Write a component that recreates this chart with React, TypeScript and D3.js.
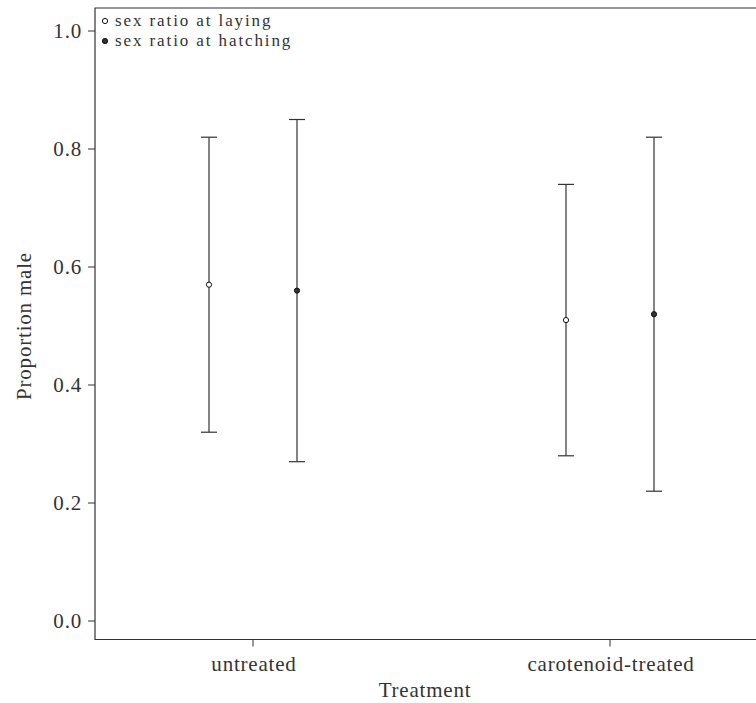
import React from "react";
import * as d3 from "d3";

const groups = ["untreated", "carotenoid-treated"];
const seriesNames = ["sex ratio at laying", "sex ratio at hatching"];
const layingMean = [0.57, 0.51];
const layingLow = [0.32, 0.28];
const layingHigh = [0.82, 0.74];
const hatchMean = [0.56, 0.52];
const hatchLow = [0.27, 0.22];
const hatchHigh = [0.85, 0.82];
const yTicks = [0.0, 0.2, 0.4, 0.6, 0.8, 1.0];

const W = 756, H = 703;
const left = 95, top = 8, bottom = 639.5;
const FONT = "'Liberation Serif', 'DejaVu Serif', serif";
const INK = "#333";
const FS = 21;
const LS = 0.8;

export default function App() {
  const y = d3.scaleLinear().domain([0, 1]).range([621, 31]);
  const x = d3.scalePoint<string>().domain(groups).range([253, 610]);
  const off = 44;
  const series = [
    { name: seriesNames[0], mean: layingMean, lo: layingLow, hi: layingHigh, dx: -off, fill: "white" },
    { name: seriesNames[1], mean: hatchMean, lo: hatchLow, hi: hatchHigh, dx: off, fill: INK },
  ];
  const txt = { fontFamily: FONT, fontSize: FS, fill: INK, letterSpacing: LS };
  return (
    <svg width={W} height={H} style={{ position: "absolute", left: 0, top: 0 }}>
      <rect width={W} height={H} fill="white" />
      <path d={`M${W},${top}H${left}V${bottom}H${W}`} fill="none" stroke={INK} strokeWidth={1.2} />
      {yTicks.map((t) => (
        <g key={t}>
          <line x1={left - 7} x2={left} y1={y(t)} y2={y(t)} stroke={INK} strokeWidth={1} />
          <text x={82} y={y(t)} dy="0.35em" textAnchor="end" {...txt}>
            {t.toFixed(1)}
          </text>
        </g>
      ))}
      {groups.map((g) => (
        <g key={g}>
          <line x1={x(g)} x2={x(g)} y1={bottom} y2={bottom + 7} stroke={INK} strokeWidth={1} />
          <text x={x(g)! + 1} y={671} textAnchor="middle" {...txt}>
            {g}
          </text>
        </g>
      ))}
      <text x={425} y={697} textAnchor="middle" {...txt}>
        Treatment
      </text>
      <text transform={`translate(31,${326}) rotate(-90)`} textAnchor="middle" {...txt}>
        Proportion male
      </text>
      {series.map((s) =>
        groups.map((g, i) => {
          const cx = x(g)! + s.dx;
          return (
            <g key={s.name + g}>
              <line x1={cx} x2={cx} y1={y(s.lo[i])} y2={y(s.hi[i])} stroke={INK} strokeWidth={1.2} />
              <line x1={cx - 8} x2={cx + 8} y1={y(s.lo[i])} y2={y(s.lo[i])} stroke={INK} strokeWidth={1.2} />
              <line x1={cx - 8} x2={cx + 8} y1={y(s.hi[i])} y2={y(s.hi[i])} stroke={INK} strokeWidth={1.2} />
              <circle cx={cx} cy={y(s.mean[i])} r={2.6} fill={s.fill} stroke="#111" strokeWidth={1} />
            </g>
          );
        })
      )}
      {series.map((s, i) => (
        <g key={s.name}>
          <circle cx={105} cy={21 + i * 20} r={2.6} fill={s.fill} stroke="#111" strokeWidth={1} />
          <text x={115} y={21 + i * 20} dy="0.32em" fontFamily={FONT} fontSize={17} fill={INK} letterSpacing={1.9}>
            {s.name}
          </text>
        </g>
      ))}
    </svg>
  );
}
